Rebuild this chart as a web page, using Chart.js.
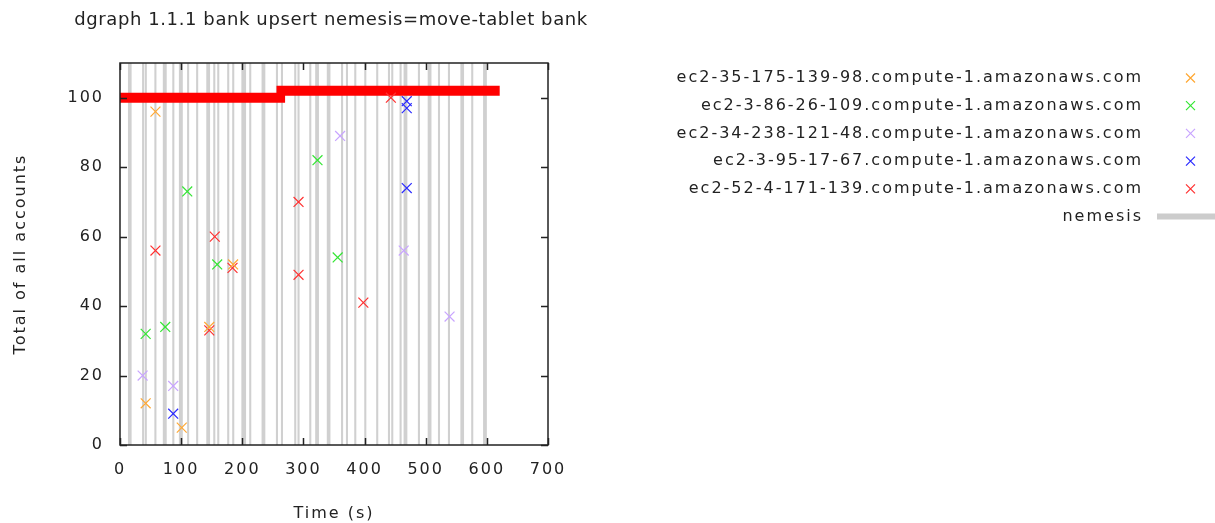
<!DOCTYPE html>
<html>
<head>
<meta charset="utf-8">
<script src="https://cdn.jsdelivr.net/npm/chart.js@4/dist/chart.umd.min.js"></script>
<style>
  body { margin: 0; background: #fff; }
  #bank { display: block; }
</style>
</head>
<body>
<canvas id="bank" width="1215" height="523"></canvas>
<script>
// values
var chartTitle = 'dgraph 1.1.1 bank upsert nemesis=move-tablet bank';
var xTicks = [0, 100, 200, 300, 400, 500, 600, 700];
var yTicks = [0, 20, 40, 60, 80, 100];

var hostNames = [
  'ec2-35-175-139-98.compute-1.amazonaws.com',
  'ec2-3-86-26-109.compute-1.amazonaws.com',
  'ec2-34-238-121-48.compute-1.amazonaws.com',
  'ec2-3-95-17-67.compute-1.amazonaws.com',
  'ec2-52-4-171-139.compute-1.amazonaws.com'
];
var hostColors = ['#ffa833', '#33e633', '#c8a4ff', '#2a2aff', '#ff3030'];

var orangeT = [42, 58, 101, 146, 185];
var orangeV = [12, 96, 5, 34, 52];
var greenT = [42, 74, 110, 159, 323, 356];
var greenV = [32, 34, 73, 52, 82, 54];
var lavenderT = [37, 87, 360, 464, 539];
var lavenderV = [20, 17, 89, 56, 37];
var blueT = [87, 469, 469, 469];
var blueV = [9, 74, 97, 99];
var redT = [58, 155, 146, 184, 292, 292, 398, 443];
var redV = [56, 60, 33, 51, 49, 70, 41, 100];

// the dense run of red readings at the top, drawn as two thick bands
var bandOneT = [0, 270];
var bandOneV = [100, 100];
var bandTwoT = [256, 621];
var bandTwoV = [102, 102];

// nemesis intervals (s)
var nemesisStart = [13, 36.1, 40.5, 56.2, 70, 85.5, 96.3, 109.7, 124.5, 141.1, 152.5, 159, 175.3, 183.5,
  198.5, 211.3, 231.5, 255, 263.2, 284.9, 290.3, 309.5, 319.2, 338.2, 361.5, 369.5, 383.1, 399.5, 419,
  438.2, 443.6, 457.2, 463.8, 487.2, 503.2, 520, 536.3, 556.7, 574.4, 593.8];
var nemesisEnd = [19, 39.5, 43.9, 59.6, 76.4, 88.9, 102.7, 113.1, 127.9, 147.3, 155.9, 162.4, 178.7, 186.9,
  206.2, 214.7, 237.7, 258.4, 266.6, 288.3, 293.7, 312.9, 325.4, 344.2, 364.9, 372.9, 386.5, 402.9, 422.4,
  441.6, 447, 460.6, 470, 490.6, 509.4, 523.4, 539.7, 562.7, 577.8, 600];

function pairs(ts, vs) {
  return ts.map(function (t, i) { return { x: t, y: vs[i] }; });
}

var series = [
  pairs(orangeT, orangeV),
  pairs(greenT, greenV),
  pairs(lavenderT, lavenderV),
  pairs(blueT, blueV),
  pairs(redT, redV)
];

var datasets = series.map(function (d, i) {
  return {
    label: hostNames[i],
    data: d,
    showLine: false,
    pointStyle: 'crossRot',
    pointRadius: 7,
    pointBorderWidth: 1.2,
    borderColor: hostColors[i],
    backgroundColor: hostColors[i],
    order: 1
  };
});

[pairs(bandOneT, bandOneV), pairs(bandTwoT, bandTwoV)].forEach(function (d) {
  datasets.push({
    label: '',
    data: d,
    showLine: true,
    borderColor: '#ff0000',
    borderWidth: 10,
    borderCapStyle: 'butt',
    pointRadius: 0,
    fill: false,
    order: 5,
    isBand: true
  });
});

var frame = {
  left: 120, right: 548, top: 63, bottom: 445
};

var nemesisPlugin = {
  id: 'nemesis',
  beforeDraw: function (chart) {
    chart.ctx.letterSpacing = '2px';
  },
  afterDatasetsDraw: function (chart) {
    // slip the grey intervals in behind whatever is already in the plot
    var ctx = chart.ctx, xs = chart.scales.x, a = chart.chartArea;
    ctx.save();
    ctx.globalCompositeOperation = 'destination-over';
    ctx.fillStyle = '#d0d0d0';
    for (var i = 0; i < nemesisStart.length; i++) {
      var x0 = xs.getPixelForValue(nemesisStart[i]);
      var x1 = xs.getPixelForValue(nemesisEnd[i]);
      ctx.fillRect(x0, a.top, Math.max(x1 - x0, 1.5), a.bottom - a.top);
    }
    ctx.restore();
  },
  afterDraw: function (chart) {
    var ctx = chart.ctx, xs = chart.scales.x, ys = chart.scales.y, a = chart.chartArea;
    ctx.save();
    // frame with inward ticks, mirrored
    ctx.strokeStyle = '#222';
    ctx.lineWidth = 1.5;
    ctx.strokeRect(a.left, a.top, a.right - a.left, a.bottom - a.top);
    ctx.beginPath();
    xTicks.forEach(function (t) {
      var px = Math.round(xs.getPixelForValue(t)) + 0.5;
      ctx.moveTo(px, a.bottom); ctx.lineTo(px, a.bottom - 7);
      ctx.moveTo(px, a.top); ctx.lineTo(px, a.top + 7);
    });
    yTicks.forEach(function (v) {
      var py = Math.round(ys.getPixelForValue(v)) + 0.5;
      ctx.moveTo(a.left, py); ctx.lineTo(a.left + 7, py);
      ctx.moveTo(a.right, py); ctx.lineTo(a.right - 7, py);
    });
    ctx.stroke();

    // title
    ctx.letterSpacing = '0.6px';
    ctx.fillStyle = '#222';
    ctx.font = '18px "DejaVu Sans"';
    ctx.textAlign = 'center';
    ctx.textBaseline = 'middle';
    ctx.fillText(chartTitle, 331, 20);

    // key, right-aligned text with sample on the right
    ctx.letterSpacing = '2px';
    ctx.font = '16px "DejaVu Sans"';
    ctx.textAlign = 'right';
    var rowY = 78, rowStep = 27.7;
    chart.data.datasets.forEach(function (ds) {
      if (ds.isBand) return;
      ctx.fillStyle = '#222';
      ctx.fillText(ds.label, 1143, rowY);
      ctx.strokeStyle = ds.borderColor;
      ctx.lineWidth = 1.2;
      ctx.beginPath();
      ctx.moveTo(1186, rowY - 4.5); ctx.lineTo(1195, rowY + 4.5);
      ctx.moveTo(1195, rowY - 4.5); ctx.lineTo(1186, rowY + 4.5);
      ctx.stroke();
      rowY += rowStep;
    });
    ctx.fillStyle = '#222';
    ctx.fillText('nemesis', 1143, rowY);
    ctx.fillStyle = '#cccccc';
    ctx.fillRect(1157, rowY - 3, 58, 6);
    ctx.restore();
  }
};

Chart.defaults.font.family = '"DejaVu Sans"';
Chart.defaults.font.size = 16;
Chart.defaults.color = '#222';

new Chart(document.getElementById('bank'), {
  type: 'scatter',
  data: { datasets: datasets },
  options: {
    responsive: false,
    animation: false,
    layout: { padding: { left: 0, top: frame.top, right: 1215 - frame.right, bottom: 0 } },
    plugins: {
      legend: { display: false },
      title: { display: false },
      tooltip: { enabled: false }
    },
    scales: {
      x: {
        type: 'linear',
        min: 0, max: 700,
        afterFit: function (s) { s.height = 523 - frame.bottom; },
        afterBuildTicks: function (s) { s.ticks = xTicks.map(function (v) { return { value: v }; }); },
        grid: { display: false, drawTicks: false },
        border: { display: false },
        ticks: { padding: 15, color: '#222', maxRotation: 0 },
        title: { display: true, text: 'Time (s)', color: '#222', padding: { top: 0, bottom: 0 } }
      },
      y: {
        type: 'linear',
        min: 0, max: 110,
        afterFit: function (s) { s.width = frame.left; },
        afterBuildTicks: function (s) { s.ticks = yTicks.map(function (v) { return { value: v }; }); },
        grid: { display: false, drawTicks: false },
        border: { display: false },
        ticks: { padding: 16, color: '#222' },
        title: { display: true, text: 'Total of all accounts', color: '#222', padding: { top: 11, bottom: 0 } }
      }
    }
  },
  plugins: [nemesisPlugin]
});
</script>
</body>
</html>
